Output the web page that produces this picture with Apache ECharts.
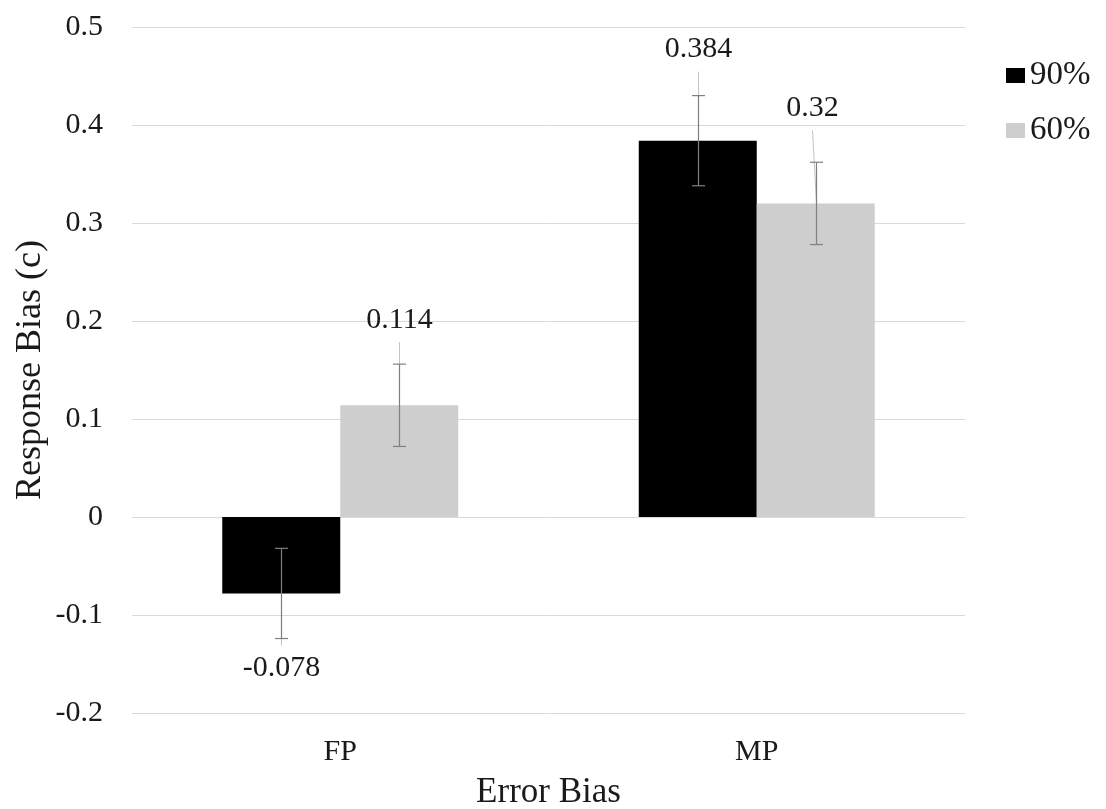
<!DOCTYPE html>
<html><head><meta charset="utf-8">
<script src="https://cdn.jsdelivr.net/npm/echarts@6/dist/echarts.min.js"></script>
<style>html,body{margin:0;padding:0;background:#fff}#c{width:1106px;height:809px}</style>
</head><body><div id="c"></div>
<script>
// ---- data ----
const categories = ['FP', 'MP'];
const seriesNames = ['90%', '60%'];
const values90 = [-0.078, 0.384];
const values60 = [0.114, 0.32];
const errors90 = [0.046, 0.046];
const errors60 = [0.042, 0.042];
const yMin = -0.2, yMax = 0.5, yStep = 0.1;

// ---- style ----
const FONT = '"Liberation Serif","Times New Roman",serif';
const TEXT = '#1a1a1a';
const BAR_W = 118;
const colors = ['#000000', '#cfcecf'];
// manual nudges of data labels (px), per series, per category
const labelNudge = [[[0, 0], [0, 0]], [[0, 2], [-4, -8]]];

function overlay(si, vals, errs, dx) {
  return {
    type: 'custom', name: seriesNames[si] + '-err', coordinateSystem: 'cartesian2d',
    z: 5, silent: true,
    data: vals.map((v, i) => [i, v, errs[i]]),
    encode: { x: 0, y: 1 },
    renderItem(params, api) {
      const i = api.value(0), v = api.value(1), e = api.value(2);
      const pv = api.coord([i, v]);
      const pt = api.coord([i, v + e]);
      const pb = api.coord([i, v - e]);
      const x = Math.round(pv[0] + dx) + 0.5;
      const n = labelNudge[si][i];
      const lx = x + n[0];
      const ly = v >= 0 ? pt[1] - 46 + n[1] : pb[1] + 30 + n[1];
      const leadStart = v >= 0 ? ly + 22 : ly - 23;
      const cap = 6.5;
      return {
        type: 'group', children: [
          { type: 'line', shape: { x1: lx, y1: leadStart, x2: x, y2: pv[1] }, style: { stroke: '#c4c4c4', lineWidth: 1 } },
          { type: 'line', shape: { x1: x, y1: pt[1], x2: x, y2: pb[1] }, style: { stroke: '#7f7f7f', lineWidth: 1.2 } },
          { type: 'line', shape: { x1: x - cap, y1: pt[1], x2: x + cap, y2: pt[1] }, style: { stroke: '#7f7f7f', lineWidth: 1.2 } },
          { type: 'line', shape: { x1: x - cap, y1: pb[1], x2: x + cap, y2: pb[1] }, style: { stroke: '#7f7f7f', lineWidth: 1.2 } },
          { type: 'text', x: lx, y: ly, style: { text: String(v), fontSize: 30, fontFamily: FONT, fill: TEXT, align: 'center', verticalAlign: 'middle' } }
        ]
      };
    }
  };
}

const chart = echarts.init(document.getElementById('c'));
chart.setOption({
  animation: false,
  backgroundColor: '#ffffff',
  textStyle: { fontFamily: FONT, color: TEXT },
  grid: { left: 132, right: 141, top: 27, bottom: 96, containLabel: false, outerBoundsMode: 'none' },
  legend: {
    data: seriesNames, orient: 'vertical', left: 1006, top: 59, padding: 0,
    icon: 'rect', itemWidth: 19, itemHeight: 15, itemGap: 22, itemTextGap: 10,
    textStyle: { fontFamily: FONT, fontSize: 33, color: TEXT, lineHeight: 33 }
  },
  xAxis: {
    type: 'category', data: categories,
    axisLine: { show: false }, axisTick: { show: false },
    axisLabel: { fontFamily: FONT, fontSize: 30, color: TEXT, margin: 24 },
    name: 'Error Bias', nameLocation: 'middle', nameGap: 62, nameMoveOverlap: false,
    nameTextStyle: { fontFamily: FONT, fontSize: 35, color: TEXT }
  },
  yAxis: {
    type: 'value', min: yMin, max: yMax, interval: yStep,
    axisLine: { show: false }, axisTick: { show: false },
    splitLine: { lineStyle: { color: '#d9d9d9', width: 1 } },
    axisLabel: { fontFamily: FONT, fontSize: 30, color: TEXT, margin: 29 },
    name: 'Response Bias (c)', nameLocation: 'middle', nameGap: 83, nameRotate: 90, nameMoveOverlap: false,
    nameTextStyle: { fontFamily: FONT, fontSize: 36, color: TEXT }
  },
  series: [
    { type: 'bar', name: seriesNames[0], data: values90, barWidth: BAR_W, barGap: '0%', itemStyle: { color: colors[0] }, z: 2 },
    { type: 'bar', name: seriesNames[1], data: values60, barWidth: BAR_W, barGap: '0%', itemStyle: { color: colors[1] }, z: 2 },
    overlay(0, values90, errors90, -BAR_W / 2),
    overlay(1, values60, errors60, BAR_W / 2)
  ]
});
</script></body></html>
